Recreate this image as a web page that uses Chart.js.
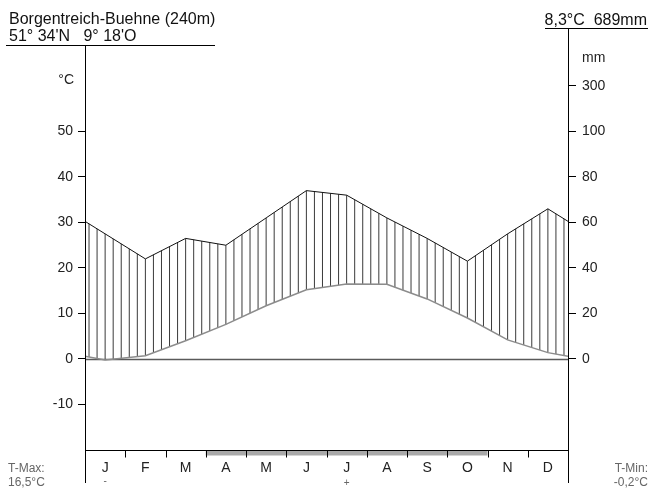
<!DOCTYPE html>
<html>
<head>
<meta charset="utf-8">
<title>Klimadiagramm Borgentreich-Buehne</title>
<script src="https://cdn.jsdelivr.net/npm/chart.js@4.4.1/dist/chart.umd.min.js"></script>
<style>
  html, body { margin: 0; padding: 0; background: #fff; }
  #wrap { width: 649px; height: 489px; }
  canvas { display: block; }
</style>
</head>
<body>
<div id="wrap"><canvas id="climate" width="649" height="489"></canvas></div>
<script>
// Station header
const stationName = 'Borgentreich-Buehne (240m)';
const stationCoords = "51° 34'N   9° 18'O";
const annualSummary = '8,3°C  689mm';
const tMaxLabel = ['T-Max:', '16,5°C'];
const tMinLabel = ['T-Min:', '-0,2°C'];

// Monthly climate normals
const months = ['J', 'F', 'M', 'A', 'M', 'J', 'J', 'A', 'S', 'O', 'N', 'D'];
const temperature = [-0.2, 0.7, 4.0, 7.6, 11.7, 15.2, 16.5, 16.4, 13.2, 9.0, 4.2, 1.4]; // °C
const precipitation = [55, 44, 53, 50, 62, 74, 72, 62, 53, 43, 55, 66];             // mm

// Axis ticks
const tempTicks = [-10, 0, 10, 20, 30, 40, 50];
const precipTicks = [0, 20, 40, 60, 80, 100, 300];

// Months without frost (bar under the month axis), first..last index
const frostFreeStart = 3;  // April
const frostFreeEnd = 9;    // October
const coldestMonth = 0;
const warmestMonth = 6;

// Walter-Lieth scaling: 10 °C = 20 mm up to 100 mm, above that 10 °C = 200 mm
function mmToScale(mm) {
  return mm <= 100 ? mm / 2 : 50 + (mm - 100) / 20;
}

// Curve points at month centres, closed at both edges with the Dec/Jan mean
function monthlyPoints(values) {
  const edge = (values[0] + values[values.length - 1]) / 2;
  const pts = [{ x: 0, y: edge }];
  values.forEach((v, i) => pts.push({ x: i + 0.5, y: v }));
  pts.push({ x: 12, y: edge });
  return pts;
}

const tempPoints = monthlyPoints(temperature);
const precipPoints = monthlyPoints(precipitation.map(mmToScale));

function interpolate(pts, x) {
  for (let i = 0; i < pts.length - 1; i++) {
    const a = pts[i], b = pts[i + 1];
    if (x >= a.x && x <= b.x) {
      const t = (x - a.x) / (b.x - a.x);
      return a.y + t * (b.y - a.y);
    }
  }
  return pts[pts.length - 1].y;
}

const FONT = '"Liberation Sans", Arial, Helvetica, sans-serif';

const climateFrame = {
  id: 'climateFrame',
  beforeDatasetsDraw(chart) {
    const { ctx, chartArea: area, scales } = chart;
    const xs = scales.x, ys = scales.yT;
    ctx.save();
    // humid period hatching: 5 vertical lines per month between both curves
    ctx.strokeStyle = '#3a3a3a';
    ctx.lineWidth = 1;
    for (let i = 0; i < 60; i++) {
      const xv = (i + 0.5) / 5;
      const t = interpolate(tempPoints, xv);
      const p = interpolate(precipPoints, xv);
      const px = xs.getPixelForValue(xv);
      ctx.beginPath();
      ctx.moveTo(px, ys.getPixelForValue(t));
      ctx.lineTo(px, ys.getPixelForValue(p));
      ctx.stroke();
    }
    // zero line
    const y0 = Math.round(ys.getPixelForValue(0)) + 0.5;
    ctx.strokeStyle = '#5a5a5a';
    ctx.lineWidth = 1.5;
    ctx.beginPath();
    ctx.moveTo(area.left, y0);
    ctx.lineTo(area.right, y0);
    ctx.stroke();
    ctx.restore();
  },
  afterDraw(chart) {
    const { ctx, chartArea: area, scales } = chart;
    const xs = scales.x;
    const left = Math.round(area.left) + 0.5;
    const right = Math.round(area.right) + 0.5;
    const bottom = Math.round(area.bottom) + 0.5;
    ctx.save();

    // frost-free bar
    ctx.fillStyle = '#a9a9a9';
    const bx0 = xs.getPixelForValue(frostFreeStart);
    const bx1 = xs.getPixelForValue(frostFreeEnd + 1);
    ctx.fillRect(bx0, bottom, bx1 - bx0, 5);

    ctx.strokeStyle = '#000';
    ctx.lineWidth = 1;
    ctx.beginPath();
    // axes
    ctx.moveTo(left, 45); ctx.lineTo(left, 483);
    ctx.moveTo(right, 28); ctx.lineTo(right, 483);
    // month axis
    ctx.moveTo(left, bottom); ctx.lineTo(right, bottom);
    for (let m = 1; m < 12; m++) {
      const px = Math.round(xs.getPixelForValue(m)) + 0.5;
      ctx.moveTo(px, bottom); ctx.lineTo(px, bottom + 7);
    }
    // header underlines
    ctx.moveTo(6, 45.5); ctx.lineTo(215, 45.5);
    ctx.moveTo(545, 28.5); ctx.lineTo(648, 28.5);
    ctx.stroke();

    // header text
    ctx.fillStyle = '#111';
    ctx.font = '16px ' + FONT;
    ctx.textBaseline = 'alphabetic';
    ctx.textAlign = 'left';
    ctx.fillText(stationName, 9, 24);
    ctx.fillText(stationCoords, 9, 41);
    ctx.textAlign = 'right';
    ctx.fillText(annualSummary, 647, 25);

    // unit labels
    ctx.font = '14px ' + FONT;
    ctx.fillStyle = '#222';
    ctx.textAlign = 'right';
    ctx.fillText('°C', 74, 84);
    ctx.textAlign = 'left';
    ctx.fillText('mm', 582, 62);

    // month labels
    ctx.textAlign = 'center';
    months.forEach((m, i) => {
      ctx.fillText(m, xs.getPixelForValue(i + 0.5), 472);
    });

    // coldest / warmest month markers
    ctx.font = '10px ' + FONT;
    ctx.fillStyle = '#666';
    ctx.fillText('-', xs.getPixelForValue(coldestMonth + 0.5), 484);
    ctx.fillText('+', xs.getPixelForValue(warmestMonth + 0.5), 486);

    // extreme monthly means
    ctx.font = '12px ' + FONT;
    ctx.fillStyle = '#666';
    ctx.textAlign = 'left';
    ctx.fillText(tMaxLabel[0], 8, 472);
    ctx.fillText(tMaxLabel[1], 8, 486);
    ctx.textAlign = 'right';
    ctx.fillText(tMinLabel[0], 648, 472);
    ctx.fillText(tMinLabel[1], 648, 486);
    ctx.restore();
  }
};

const axisFont = { family: FONT, size: 14 };

new Chart(document.getElementById('climate'), {
  type: 'line',
  data: {
    datasets: [
      {
        label: 'Niederschlag',
        data: precipPoints,
        yAxisID: 'yT',
        borderColor: '#111',
        borderWidth: 1,
        pointRadius: 0,
        tension: 0,
        fill: false
      },
      {
        label: 'Temperatur',
        data: tempPoints,
        yAxisID: 'yT',
        borderColor: '#8c8c8c',
        borderWidth: 1.5,
        pointRadius: 0,
        tension: 0,
        fill: false
      }
    ]
  },
  options: {
    responsive: false,
    animation: false,
    devicePixelRatio: 1,
    layout: { padding: { top: 45, bottom: 39, left: 0, right: 0 } },
    plugins: { legend: { display: false }, tooltip: { enabled: false } },
    scales: {
      x: { type: 'linear', min: 0, max: 12, display: false },
      yT: {
        position: 'left',
        min: -20,
        max: 69,
        afterBuildTicks: s => { s.ticks = tempTicks.map(v => ({ value: v })); },
        afterFit: s => { s.width = 85; },
        grid: { drawOnChartArea: false, tickLength: 7, color: '#000', tickColor: '#000' },
        border: { display: false },
        ticks: { font: axisFont, color: '#222', padding: 5, callback: v => String(v) }
      },
      yP: {
        position: 'right',
        min: -20,
        max: 69,
        afterBuildTicks: s => { s.ticks = precipTicks.map(v => ({ value: mmToScale(v) })); },
        afterFit: s => { s.width = 81; },
        grid: { drawOnChartArea: false, tickLength: 8, color: '#000', tickColor: '#000' },
        border: { display: false },
        ticks: { font: axisFont, color: '#222', padding: 6, callback: (v, i) => String(precipTicks[i]) }
      }
    }
  },
  plugins: [climateFrame]
});
</script>
</body>
</html>
